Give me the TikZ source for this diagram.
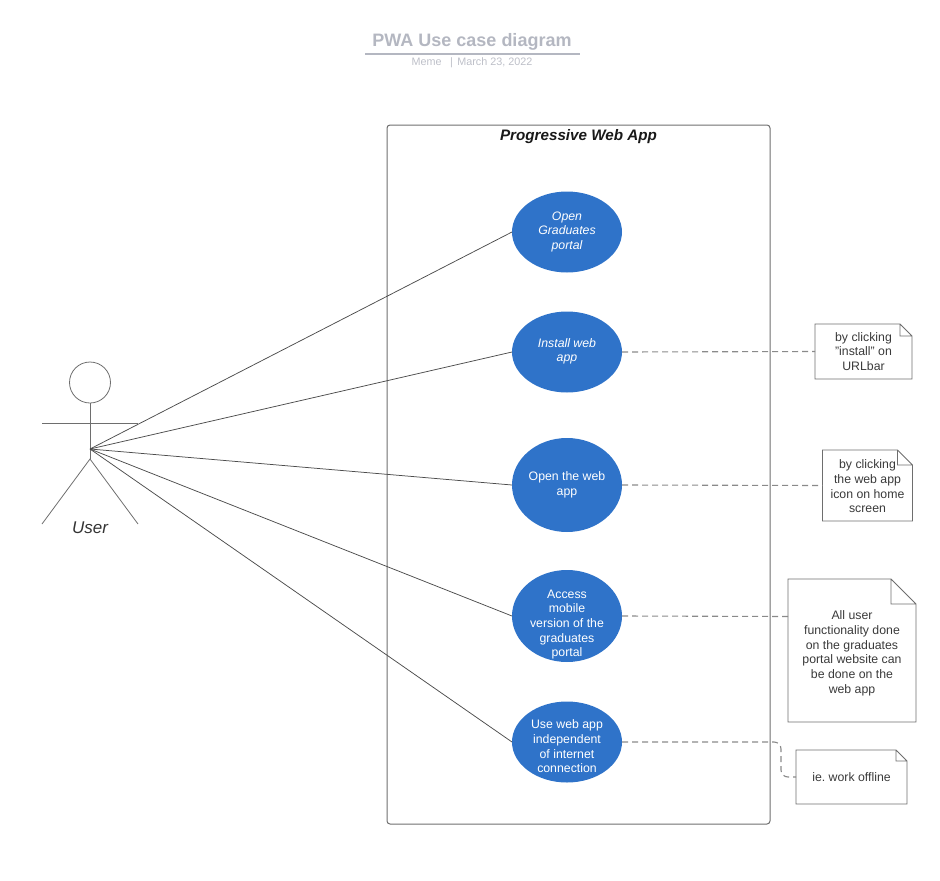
\documentclass[tikz,border=0pt]{standalone}
\usepackage{fontspec}
\setmainfont{Liberation Sans}
\usetikzlibrary{shapes.geometric}
\definecolor{ucblue}{HTML}{2F73C9}
\definecolor{linegray}{HTML}{6E6E6E}
\definecolor{dashgray}{HTML}{8A8A8A}
\definecolor{titlegray}{HTML}{B4B7C1}
\definecolor{subgray}{HTML}{BDBFC8}
\definecolor{notetext}{HTML}{3A3A3A}
\newcommand{\shifted}[2]{\raisebox{#1}[0pt][0pt]{\begin{tabular}{@{}c@{}}#2\end{tabular}}}
\tikzset{
  usecase/.style={ellipse,fill=ucblue,text=white,inner sep=0pt,outer sep=0pt,align=center,
    font=\fontsize{12.3}{14.7}\selectfont\frenchspacing},
  noteline/.style={draw=linegray,line width=0.9pt},
  notebox/.style={rectangle,inner sep=0pt,outer sep=0pt,align=center,text=notetext,
    font=\fontsize{12.3}{14.7}\selectfont\frenchspacing,
    append after command={
      \pgfextra{\draw[noteline,line join=miter]
        (\tikzlastnode.north west) -- ([xshift=-#1]\tikzlastnode.north east)
        -- ([yshift=-#1]\tikzlastnode.north east) -- (\tikzlastnode.south east)
        -- (\tikzlastnode.south west) -- cycle
        ([xshift=-#1]\tikzlastnode.north east)
        -- ([xshift=-#1,yshift=-#1]\tikzlastnode.north east)
        -- ([yshift=-#1]\tikzlastnode.north east);}}},
  actorline/.style={draw=linegray,line width=0.8pt},
  assoc/.style={draw=black!70,line width=0.75pt},
  dep/.style={draw=dashgray,line width=1.1pt,dash pattern=on 6pt off 4pt},
}
\begin{document}
\begin{tikzpicture}[x=1pt,y=-1pt]
\useasboundingbox (0,0) rectangle (940,881);
% title
\node[text=titlegray,font=\fontsize{18}{22}\selectfont\bfseries] (title) at (472,41.5) {PWA Use case diagram};
\draw[draw=titlegray,line width=1.2pt] (365,54) coordinate (tl) -- (580,54) coordinate (tr);
\node[text=subgray,font=\fontsize{10.8}{13}\selectfont] (sub) at (472,62.5) {Meme\hspace{0.8em}|\hspace{0.4em}March 23, 2022};
% system boundary
\draw[draw=linegray,line width=1pt,rounded corners=3pt] (387,125) rectangle (770,824);
\node[font=\fontsize{15.2}{18}\selectfont\bfseries\itshape,text=black!90] (sys) at (578.5,137) {Progressive Web App};
% use cases
\node[usecase,minimum width=110pt,minimum height=81pt] (u1) at (567,232) {\shifted{-3pt}{\itshape Open\\\itshape Graduates\\\itshape portal}};
\node[usecase,minimum width=110pt,minimum height=81pt] (u2) at (567,352) {\shifted{-2.5pt}{\itshape Install web\\\itshape app}};
\node[usecase,minimum width=110pt,minimum height=94pt] (u3) at (567,485) {\shifted{-3pt}{Open the web\\app}};
\node[usecase,minimum width=110pt,minimum height=92pt] (u4) at (567,616) {\shifted{-11.5pt}{Access\\mobile\\version of the\\graduates\\portal}};
\node[usecase,minimum width=110pt,minimum height=81pt] (u5) at (567,742) {\shifted{-9pt}{Use web app\\independent\\of internet\\connection}};
% notes
\node[notebox=12pt,minimum width=97pt,minimum height=55pt] (n1) at (863.5,351.5) {by clicking\\"install" on\\URLbar};
\node[notebox=15pt,minimum width=90pt,minimum height=71pt] (n2) at (867.5,485.5) {\shifted{-5.5pt}{by clicking\\the web app\\icon on home\\screen}};
\node[notebox=25pt,minimum width=128pt,minimum height=143pt] (n3) at (852,650.5) {\\All user\\functionality done\\on the graduates\\portal website can\\be done on the\\web app};
\node[notebox=11pt,minimum width=111pt,minimum height=54pt] (n4) at (851.5,777) {ie. work offline};
% dependencies
\draw[dep] (u2.east) -- (n1.west);
\draw[dep] (u3.east) -- (n2.west);
\coordinate (n3port) at (788,616.5);
\draw[dep] (u4.east) -- (n3port);
\coordinate (bend) at (781,742);
\draw[dep,rounded corners=7pt] (u5.east) -- (bend) -- (bend |- n4.west) -- (n4.west);
% actor
\node[circle,draw=linegray,line width=0.8pt,minimum size=41pt,inner sep=0pt,outer sep=0pt] (head) at (90,382.5) {};
\coordinate (hip) at (90,459);
\coordinate (hub) at (90,449);
\coordinate (armL) at (42,423);
\coordinate (armR) at (138,423);
\coordinate (legL) at (42,524);
\coordinate (legR) at (138,524);
\draw[actorline] (head.south) -- (hip);
\draw[actorline] (armL) -- (armR);
\draw[actorline] (legL) -- (hip) -- (legR);
\node[font=\fontsize{17}{20}\selectfont\itshape,text=black!80] (actor) at (90,528) {User};
% associations
\foreach \u in {u1,u2,u3,u4,u5}{\draw[assoc] (hub) -- (\u.west);}
\end{tikzpicture}
\end{document}
